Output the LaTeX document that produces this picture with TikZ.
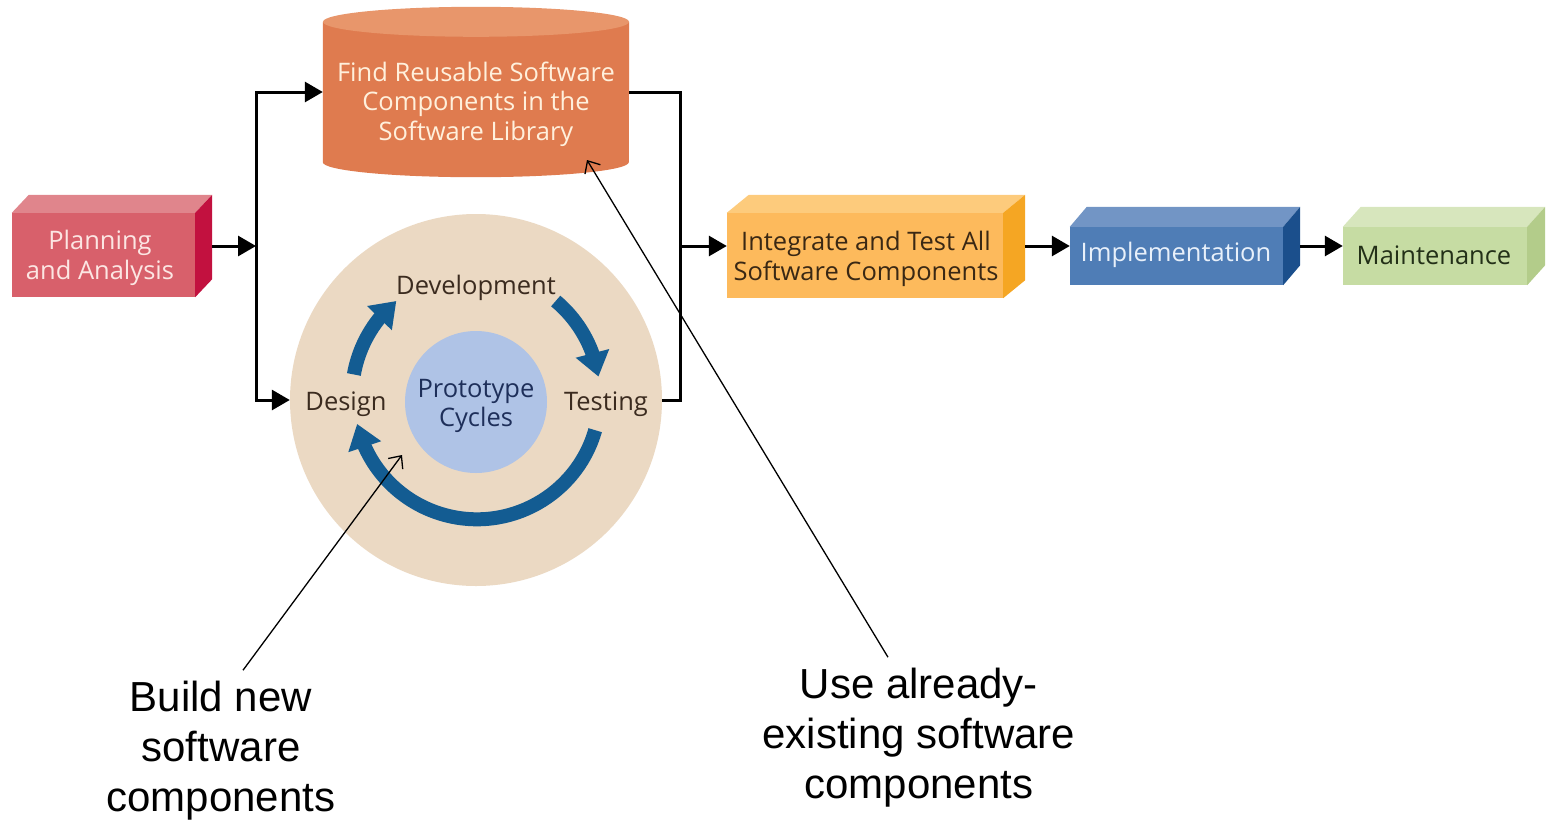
\documentclass[tikz,border=0pt]{standalone}
\usepackage{fontspec}
\setmainfont{Open Sans}
\newfontfamily\notefont{Liberation Sans}
\usetikzlibrary{arrows.meta,bending}

% stage colours: front, top and side faces
\definecolor{planFront}{HTML}{D8606B}
\definecolor{planTop}{HTML}{E0858C}
\definecolor{planSide}{HTML}{C2113F}
\definecolor{planText}{HTML}{FCE6E3}
\definecolor{libBody}{HTML}{DF7B4F}
\definecolor{libTop}{HTML}{E8966B}
\definecolor{libText}{HTML}{FFF0DC}
\definecolor{integFront}{HTML}{FDBA5C}
\definecolor{integTop}{HTML}{FDCB7C}
\definecolor{integSide}{HTML}{F5A623}
\definecolor{integText}{HTML}{3A2814}
\definecolor{implFront}{HTML}{4F7DB6}
\definecolor{implTop}{HTML}{7295C5}
\definecolor{implSide}{HTML}{1B4F8C}
\definecolor{implText}{HTML}{E8F0FA}
\definecolor{maintFront}{HTML}{C6DCA3}
\definecolor{maintTop}{HTML}{D7E6BD}
\definecolor{maintSide}{HTML}{B3CC8A}
\definecolor{maintText}{HTML}{233018}
\definecolor{cycBeige}{HTML}{EBD9C3}
\definecolor{cycInner}{HTML}{AFC3E6}
\definecolor{cycBlue}{HTML}{135C92}
\definecolor{cycText}{HTML}{3B2B1F}
\definecolor{protoText}{HTML}{1E2F5A}

\begin{document}
\begin{tikzpicture}[x=1pt,y=1pt,
  face/.style={inner sep=0pt},
  label/.style={inner sep=2pt, align=center, font=\fontsize{25.5}{29.5}\selectfont},
  wire/.style={line width=3pt, black},
  flow/.style={wire, -{Triangle[length=18pt,width=20pt]}},
  cyclearrow/.style={line width=14pt, cycBlue, -{Triangle[length=24pt,width=33pt]}},
  note/.style={line width=1.3pt, black, -{Straight Barb[length=10pt,width=18pt]}},
  notetext/.style={align=center, inner sep=4pt, font=\notefont\fontsize{42}{50}\selectfont}
]
\useasboundingbox (0,0) rectangle (1551,-820);

% ---- Planning and Analysis (3-D block) ----
\node[face, fill=planFront, minimum width=183pt, minimum height=84pt] (plan) at (103.5,-255) {};
\fill[planTop] (plan.north west) -- ++(17,18) -- ([shift={(17,18)}]plan.north east) -- (plan.north east) -- cycle;
\fill[planSide] (plan.north east) -- ++(17,18) -- ([shift={(17,18)}]plan.south east) -- (plan.south east) -- cycle;
\node[label, text=planText] (plantext) at (100,-258) {Planning\\and Analysis};

% ---- Software library (cylinder) ----
\node[face, minimum width=306pt, minimum height=170pt] (lib) at (476,-92) {};
\fill[libBody] ([yshift=-15pt]lib.north west) -- ([yshift=15pt]lib.south west)
  arc[start angle=180, end angle=360, x radius=153pt, y radius=15pt]
  -- ([yshift=-15pt]lib.north east) -- cycle;
\fill[libTop] ([yshift=-15pt]lib.north) ellipse[x radius=153pt, y radius=15pt];
\node[label, text=libText] (libtext) at (476,-104)
  {Find Reusable Software\\Components in the\\Software Library};

% ---- Prototype cycles ----
\node[circle, fill=cycBeige, minimum size=372pt, inner sep=0pt] (cyc) at (476,-400) {};
\node[circle, fill=cycInner, minimum size=142pt, inner sep=0pt] (proto) at (476,-402) {};
\node[label, text=protoText] (prototext) at (476,-406) {Prototype\\Cycles};
\node[label, text=cycText] (dev) at (476,-288) {Development};
\node[label, text=cycText] (design) at (346,-404) {Design};
\node[label, text=cycText] (test) at (606,-404) {Testing};
\coordinate (cc) at (476,-396);
\draw[cyclearrow] ([shift={(170:124pt)}]cc) arc[start angle=170, end angle=130, radius=124pt];
\draw[cyclearrow] ([shift={(50:124pt)}]cc) arc[start angle=50, end angle=9, radius=124pt];
\draw[cyclearrow] ([shift={(-16:124pt)}]cc) arc[start angle=-16, end angle=-167, radius=123pt];

% ---- Integrate and Test (3-D block) ----
\node[face, fill=integFront, minimum width=276pt, minimum height=85pt] (integ) at (865,-255.5) {};
\fill[integTop] (integ.north west) -- ++(22,18) -- ([shift={(22,18)}]integ.north east) -- (integ.north east) -- cycle;
\fill[integSide] (integ.north east) -- ++(22,18) -- ([shift={(22,18)}]integ.south east) -- (integ.south east) -- cycle;
\node[label, text=integText] (integtext) at (866,-259) {Integrate and Test All\\Software Components};

% ---- Implementation (3-D block) ----
\node[face, fill=implFront, minimum width=213pt, minimum height=58pt] (impl) at (1176.5,-256) {};
\fill[implTop] (impl.north west) -- ++(17,20) -- ([shift={(17,20)}]impl.north east) -- (impl.north east) -- cycle;
\fill[implSide] (impl.north east) -- ++(17,20) -- ([shift={(17,20)}]impl.south east) -- (impl.south east) -- cycle;
\node[label, text=implText] (impltext) at (1176,-255) {Implementation};

% ---- Maintenance (3-D block) ----
\node[face, fill=maintFront, minimum width=184pt, minimum height=58pt] (maint) at (1435,-256) {};
\fill[maintTop] (maint.north west) -- ++(18,20) -- ([shift={(18,20)}]maint.north east) -- (maint.north east) -- cycle;
\fill[maintSide] (maint.north east) -- ++(18,20) -- ([shift={(18,20)}]maint.south east) -- (maint.south east) -- cycle;
\node[label, text=maintText] (mainttext) at (1434,-255) {Maintenance};

% ---- flow connectors ----
\coordinate (jl) at (256,-246);
\coordinate (jr) at (680,-246);
\draw[flow] ([shift={(17,9)}]plan.east) -- (jl);
\draw[flow] (jl) |- (lib.west);
\draw[flow] (jl) |- (cyc.west);
\draw[wire] (lib.east) -| (jr) |- (cyc.east);
\draw[flow] (jr) -- ([yshift=9.5pt]integ.west);
\draw[flow] ([shift={(22,9.5)}]integ.east) -- ([yshift=10pt]impl.west);
\draw[flow] ([shift={(17,10)}]impl.east) -- ([yshift=10pt]maint.west);

% ---- annotations ----
\node[notetext] (build) at (221,-751) {Build new\\software\\components};
\node[notetext] (reuse) at (919,-738) {Use already-\\existing software\\components};
\coordinate (newtip) at (402,-455);
\coordinate (libtip) at (587,-160);
\draw[note] ([shift={(22,7)}]build.north) -- (newtip);
\draw[note] ([shift={(-31,7)}]reuse.north) -- (libtip);
\end{tikzpicture}
\end{document}
